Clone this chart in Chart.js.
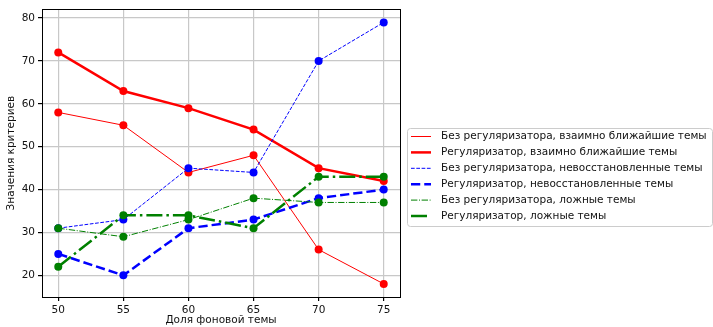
<!DOCTYPE html>
<html>
<head>
<meta charset="utf-8">
<script src="https://cdn.jsdelivr.net/npm/chart.js@4"></script>
<style>
  html, body { margin: 0; padding: 0; background: #fff; }
  canvas { display: block; }
</style>
</head>
<body>
<canvas id="chart" width="713" height="327"></canvas>
<script>
const fractions = [50, 55, 60, 65, 70, 75];
const noRegNearest = [58, 55, 44, 48, 26, 18];
const regNearest = [72, 63, 59, 54, 45, 42];
const noRegUnrestored = [31, 33, 45, 44, 70, 79];
const regUnrestored = [25, 20, 31, 33, 38, 40];
const noRegFalse = [31, 29, 33, 38, 37, 37];
const regFalse = [22, 34, 34, 31, 43, 43];

const xTicks = [50, 55, 60, 65, 70, 75];
const yTicks = [20, 30, 40, 50, 60, 70, 80];

const seriesNames = [
  'Без регуляризатора, взаимно ближайшие темы',
  'Регуляризатор, взаимно ближайшие темы',
  'Без регуляризатора, невосстановленные темы',
  'Регуляризатор, невосстановленные темы',
  'Без регуляризатора, ложные темы',
  'Регуляризатор, ложные темы'
];

Chart.defaults.font.family = '"DejaVu Sans", sans-serif';
Chart.defaults.font.size = 10.5;
Chart.defaults.color = '#111';

function makeSet(i, values, color, width, dash) {
  return {
    label: seriesNames[i],
    data: fractions.map((x, k) => ({ x: x, y: values[k] })),
    borderColor: color,
    backgroundColor: color,
    borderWidth: width,
    borderDash: dash,
    pointRadius: 4,
    pointBorderWidth: 0,
    pointBackgroundColor: color,
    tension: 0,
    order: 6 - i
  };
}

const datasets = [
  makeSet(0, noRegNearest, '#ff0000', 1, []),
  makeSet(1, regNearest, '#ff0000', 2.5, []),
  makeSet(2, noRegUnrestored, '#0000ff', 1, [3.7, 1.6]),
  makeSet(3, regUnrestored, '#0000ff', 2.5, [9.25, 4]),
  makeSet(4, noRegFalse, '#008000', 1, [6.4, 1.6, 1, 1.6]),
  makeSet(5, regFalse, '#008000', 2.5, [16, 4, 2.5, 4])
];

// frame around the plot and the legend box on the right
const framePlugin = {
  id: 'frame',
  afterDraw(chart) {
    const ctx = chart.ctx;
    const a = chart.chartArea;
    ctx.save();
    ctx.strokeStyle = '#000';
    ctx.lineWidth = 1;
    ctx.strokeRect(Math.round(a.left) + 0.5, Math.round(a.top) + 0.5,
      Math.round(a.right - a.left), Math.round(a.bottom - a.top));

    const bx = 407, by = 128, bw = 305, bh = 98;
    ctx.beginPath();
    ctx.roundRect(bx + 0.5, by + 0.5, bw, bh, 3);
    ctx.fillStyle = 'rgba(255,255,255,0.8)';
    ctx.fill();
    ctx.strokeStyle = '#cccccc';
    ctx.stroke();

    ctx.font = '10.5px "DejaVu Sans", sans-serif';
    ctx.textBaseline = 'middle';
    ctx.fillStyle = '#111';
    chart.data.datasets.forEach((ds, i) => {
      const y = 136.5 + 15.9 * i;
      ctx.beginPath();
      ctx.strokeStyle = ds.borderColor;
      ctx.lineWidth = ds.borderWidth;
      ctx.setLineDash(ds.borderDash);
      ctx.moveTo(411, y);
      ctx.lineTo(431, y);
      ctx.stroke();
      ctx.setLineDash([]);
      ctx.fillText(ds.label, 441, y);
    });
    ctx.restore();
  }
};

new Chart(document.getElementById('chart'), {
  type: 'line',
  data: { datasets: datasets },
  plugins: [framePlugin],
  options: {
    responsive: false,
    animation: false,
    layout: { padding: { left: 0, top: 5, right: 313, bottom: 0 } },
    plugins: {
      legend: { display: false },
      tooltip: { enabled: false }
    },
    scales: {
      x: {
        type: 'linear',
        min: 48.75,
        max: 76.25,
        afterBuildTicks: (s) => { s.ticks = xTicks.map(v => ({ value: v })); },
        afterFit: (s) => { s.height = 30; },
        ticks: { padding: 3, maxRotation: 0 },
        grid: { color: '#c8c8c8', lineWidth: 1.2, tickLength: 4, tickColor: '#000' },
        border: { color: '#000', width: 1 },
        title: { display: true, text: 'Доля фоновой темы', padding: { top: 0, bottom: 0 } }
      },
      y: {
        type: 'linear',
        min: 14.95,
        max: 82.05,
        afterBuildTicks: (s) => { s.ticks = yTicks.map(v => ({ value: v })); },
        afterFit: (s) => { s.width = 42; },
        ticks: { padding: 3 },
        grid: { color: '#c8c8c8', lineWidth: 1.2, tickLength: 4, tickColor: '#000' },
        border: { color: '#000', width: 1 },
        title: { display: true, text: 'Значения критериев', padding: { top: 5, bottom: 0 } }
      }
    }
  }
});
</script>
</body>
</html>
